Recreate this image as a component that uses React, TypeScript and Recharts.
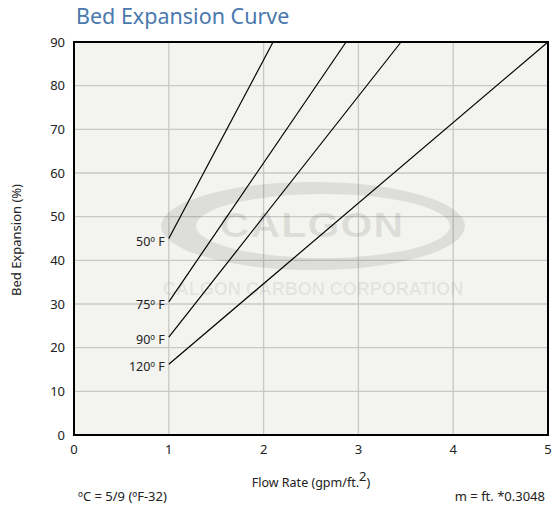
import * as React from "react";
import {
  CartesianGrid,
  Customized,
  Line,
  LineChart,
  XAxis,
  YAxis,
} from "recharts";

// flow rate (gpm/ft.2) vs bed expansion (%) for each water temperature
const curveLabels = ["50º F", "75º F", "90º F", "120º F"];
const startFlow = [1, 1, 1, 1];
const startExpansion = [45, 30.5, 22.4, 16.2];
const endFlow = [2.1, 2.87, 3.45, 5];
const endExpansion = [90, 90, 90, 90];

const xTicks = [0, 1, 2, 3, 4, 5];
const yTicks = [0, 10, 20, 30, 40, 50, 60, 70, 80, 90];

const W = 552;
const H = 508;
const Y_AXIS_W = 60;
const X_AXIS_H = 30;
const M = { top: 42, right: 4, bottom: 73 - X_AXIS_H, left: 74 - Y_AXIS_W };
const PLOT = { x: 74, y: 42, w: W - 4 - 74, h: 435 - 42 };

const FONT = "'Noto Sans', 'Open Sans', sans-serif";
const MARK_FONT = "'Liberation Sans', Arial, sans-serif";

const series = curveLabels.map((name, i) => ({
  name,
  data: [
    { flow: startFlow[i], expansion: startExpansion[i] },
    { flow: endFlow[i], expansion: endExpansion[i] },
  ],
}));

// ellipse as a path so the crescent can be cut out with evenodd
function ellipsePath(cx: number, cy: number, rx: number, ry: number) {
  return `M${cx - rx},${cy} a${rx},${ry} 0 1,0 ${rx * 2},0 a${rx},${ry} 0 1,0 ${-rx * 2},0 Z`;
}

function Watermark() {
  return (
    <g fill="#000" fillOpacity={0.09} fontFamily={MARK_FONT} fontWeight={700}>
      <path
        d={ellipsePath(313, 226, 152, 44) + " " + ellipsePath(323, 226, 127, 32)}
        fillRule="evenodd"
      />
      <text
        transform="translate(312 237) scale(1.17 1)"
        textAnchor="middle"
        fontSize={35}
        letterSpacing={1}
      >
        CALGON
      </text>
      <text
        x={313}
        y={295}
        textAnchor="middle"
        fontSize={18}
        fillOpacity={0.07}
      >
        CALGON CARBON CORPORATION
      </text>
    </g>
  );
}

function Frame() {
  return (
    <g fontFamily={FONT}>
      <rect
        x={PLOT.x}
        y={PLOT.y}
        width={PLOT.w}
        height={PLOT.h}
        fill="none"
        stroke="#000"
        strokeWidth={2}
      />
      <text x={76} y={24} fontSize={21.5} fill="#4a78ad">
        Bed Expansion Curve
      </text>
      <text
        x={18}
        y={240}
        transform="rotate(-90 18 240)"
        textAnchor="middle"
        dominantBaseline="middle"
        fontSize={13}
        fill="#222"
      >
        Bed Expansion (%)
      </text>
      <text x={311} y={487} textAnchor="middle" fontSize={12.5} fill="#222">
        Flow Rate (gpm/ft.
        <tspan fontSize={13} dy={-6}>2</tspan>
        <tspan dy={6}>)</tspan>
      </text>
      <text x={78} y={501} fontSize={13} fill="#222">
        ºC = 5/9 (ºF-32)
      </text>
      <text x={545} y={501} textAnchor="end" fontSize={13} fill="#222">
        m = ft. *0.3048
      </text>
    </g>
  );
}

function startLabel(text: string) {
  return (props: any) => {
    if (props.index !== 0) return null;
    return (
      <text
        x={props.x - 4}
        y={props.y + 7}
        textAnchor="end"
        fontFamily={FONT}
        fontSize={12.5}
        fill="#222"
      >
        {text}
      </text>
    );
  };
}

export default function App() {
  return (
    <div style={{ position: "absolute", left: 0, top: 0, background: "#fff" }}>
      <LineChart width={W} height={H} margin={M}>
        <CartesianGrid stroke="#c8c8c8" strokeWidth={1.3} fill="#f3f3ef" />
        <Customized component={Watermark} />
        <XAxis
          type="number"
          dataKey="flow"
          domain={[0, 5]}
          ticks={xTicks}
          height={X_AXIS_H}
          axisLine={false}
          tickLine={false}
          tickMargin={4}
          tick={{ fontSize: 13, fill: "#222", fontFamily: FONT }}
          allowDuplicatedCategory={false}
        />
        <YAxis
          type="number"
          dataKey="expansion"
          domain={[0, 90]}
          ticks={yTicks}
          width={Y_AXIS_W}
          axisLine={false}
          tickLine={false}
          tickMargin={3}
          tick={{ fontSize: 13, fill: "#222", fontFamily: FONT }}
        />
        {series.map((s) => (
          <Line
            key={s.name}
            data={s.data}
            dataKey="expansion"
            name={s.name}
            type="linear"
            stroke="#000"
            strokeWidth={1.2}
            dot={false}
            activeDot={false}
            label={startLabel(s.name)}
            isAnimationActive={false}
          />
        ))}
        <Customized component={Frame} />
      </LineChart>
    </div>
  );
}
